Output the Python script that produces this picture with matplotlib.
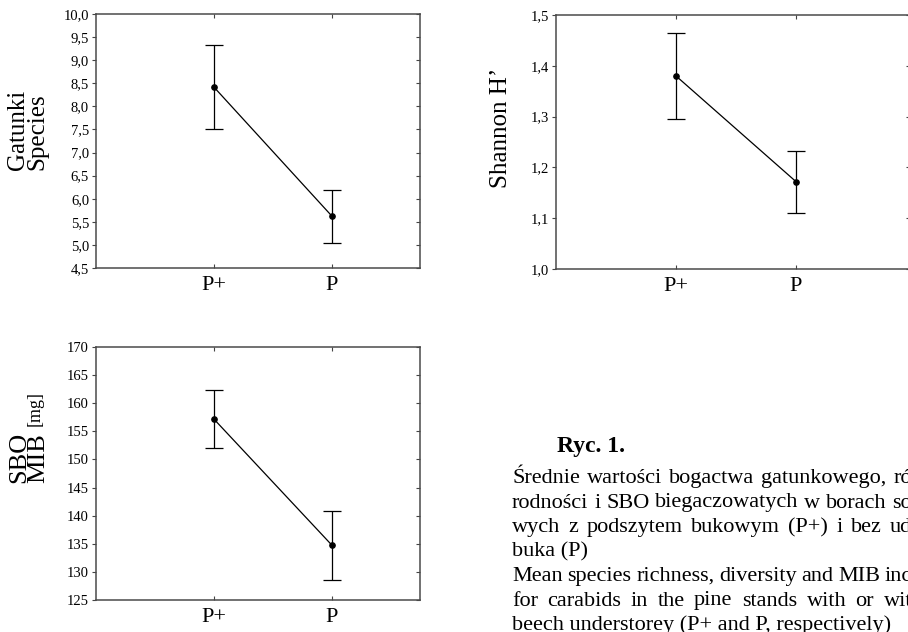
"""Mean species richness, diversity and MIB of carabids (Ryc. 1)"""
import matplotlib
matplotlib.use("Agg")
import matplotlib.pyplot as plt

plt.rcParams['font.family'] = ['Liberation Serif', 'DejaVu Serif']

# data
groups = ['P+', 'P']
species_mean = [8.42, 5.63]
species_low = [7.52, 5.05]
species_high = [9.33, 6.19]

shannon_mean = [1.380, 1.172]
shannon_low = [1.295, 1.111]
shannon_high = [1.464, 1.232]

mib_mean = [157.2, 134.8]
mib_low = [152.1, 128.5]
mib_high = [162.3, 140.8]

species_ticks = [4.5, 5.0, 5.5, 6.0, 6.5, 7.0, 7.5, 8.0, 8.5, 9.0, 9.5, 10.0]
shannon_ticks = [1.0, 1.1, 1.2, 1.3, 1.4, 1.5]
mib_ticks = [125, 130, 135, 140, 145, 150, 155, 160, 165, 170]

caption_title = 'Ryc. 1.'
caption_lines = [
    ('Średnie wartości bogactwa gatunkowego, ró', True),
    ('rodności i SBO biegaczowatych w borach so', True),
    ('wych z podszytem bukowym (P+) i bez ud', True),
    ('buka (P)', False),
    ('Mean species richness, diversity and MIB inc', True),
    ('for carabids in the pine stands with or wit', True),
    ('beech understorey (P+ and P, respectively)', False),
]

W, H = 908, 632
fig = plt.figure(figsize=(W / 100, H / 100), dpi=100)


def box(left, top, right, bottom):
    """axes rectangle from pixel edges"""
    return [left / W, 1 - bottom / H, (right - left) / W, (bottom - top) / H]


def fmt(v, dec):
    return ('{:.%df}' % dec).format(v).replace('.', ',')


def draw_panel(ax, mean, low, high, ticks, dec, xmax):
    xs = [1, 2]
    yerr = [[m - l for m, l in zip(mean, low)], [h - m for m, h in zip(mean, high)]]
    ax.errorbar(xs, mean, yerr=yerr, color='black', lw=0.9, marker='o',
                markersize=3.8, capsize=6.5, capthick=0.9, elinewidth=0.9)
    ax.set_xlim(0, xmax)
    ax.set_ylim(ticks[0], ticks[-1])
    ax.set_xticks(xs)
    ax.set_xticklabels(groups, fontsize=16)
    ax.set_yticks(ticks)
    ax.set_yticklabels([fmt(t, dec) for t in ticks], fontsize=10.5)
    ax.tick_params(axis='x', direction='in', length=3, width=0.8, top=True,
                   color='#444444', pad=6)
    ax.tick_params(axis='y', direction='out', length=3, width=0.8,
                   color='#444444', pad=2)
    for sp in ax.spines.values():
        sp.set_color('#4a4a4a')
        sp.set_linewidth(1.1)
    # inward ticks on the right frame, no labels
    right = ax.secondary_yaxis('right')
    right.set_yticks(ticks, labels=[''] * len(ticks))
    right.tick_params(direction='in', length=3, width=0.8, color='#444444')
    right.spines['right'].set_visible(False)


ax1 = fig.add_axes(box(96, 14, 420, 268))
draw_panel(ax1, species_mean, species_low, species_high, species_ticks, 1, 2.75)
ax2 = fig.add_axes(box(556, 15, 910, 269))
draw_panel(ax2, shannon_mean, shannon_low, shannon_high, shannon_ticks, 1, 2.95)
ax3 = fig.add_axes(box(96, 347, 420, 600))
draw_panel(ax3, mib_mean, mib_low, mib_high, mib_ticks, 0, 2.75)

# y labels
fig.text(28 / W, 1 - 130 / H, 'Gatunki\nSpecies', rotation=90, fontsize=18,
         ha='center', va='center', multialignment='left', linespacing=0.85)
fig.text(501 / W, 1 - 128 / H, 'Shannon H’', rotation=90, fontsize=18,
         ha='center', va='center')
fig.text(29 / W, 1 - 457 / H, 'SBO\nMIB', rotation=90, fontsize=19,
         ha='center', va='center', multialignment='left', linespacing=0.82)
fig.text(35 / W, 1 - 408 / H, '[mg]', rotation=90, fontsize=13,
         ha='center', va='center')

# caption
fig.text(557 / W, 1 - 452 / H, caption_title, fontsize=17, fontweight='bold',
         ha='left', va='baseline')

renderer = fig.canvas.get_renderer()
x0, x_end = 512, 912
baseline = 483
for text, justify in caption_lines:
    yb = 1 - baseline / H
    if not justify:
        fig.text(x0 / W, yb, text, fontsize=16, ha='left', va='baseline')
    else:
        words = text.split(' ')
        objs = [fig.text(0, yb, w, fontsize=16, ha='left', va='baseline') for w in words]
        widths = [o.get_window_extent(renderer=renderer).width for o in objs]
        gap = (x_end - x0 - sum(widths)) / (len(words) - 1)
        x = x0
        for o, wd in zip(objs, widths):
            o.set_x(x / W)
            x += wd + gap
    baseline += 24.5

fig.savefig('out.png', dpi=100)
